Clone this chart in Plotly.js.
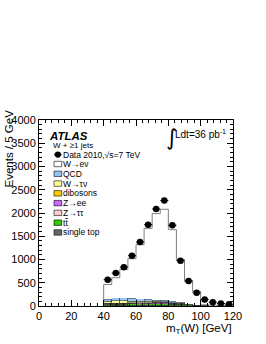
<!DOCTYPE html>
<html>
<head>
<meta charset="utf-8">
<script src="https://cdn.plot.ly/plotly-3.0.1.min.js"></script>
<style>html,body{margin:0;padding:0;background:#fff;}#chart{width:266px;height:344px;}</style>
</head>
<body>
<div id="chart"></div>
<script>
// ---- data ----
const binCenters = [42.5, 47.5, 52.5, 57.5, 62.5, 67.5, 72.5, 77.5, 82.5, 87.5, 92.5, 97.5, 102.5, 107.5, 112.5, 117.5];
const binEdges   = [40, 45, 50, 55, 60, 65, 70, 75, 80, 85, 90, 95, 100, 105, 110, 115, 120];
const dataCounts = [565, 707, 836, 1082, 1375, 1750, 2086, 2267, 1735, 974, 535, 284, 140, 82, 54, 39];
const singleTop  = [10, 12, 13, 14, 14, 14, 13, 12, 10, 8, 6, 4, 2, 1, 1, 1];
const ttbar      = [18, 22, 26, 30, 34, 36, 36, 35, 30, 24, 16, 10, 5, 3, 2, 1];
const Ztautau    = [6, 6, 5, 5, 4, 4, 3, 3, 2, 2, 1, 1, 0, 0, 0, 0];
const Zee        = [20, 18, 16, 14, 14, 16, 20, 22, 14, 8, 4, 2, 1, 1, 0, 0];
const dibosons   = [3, 4, 4, 4, 4, 4, 5, 5, 5, 4, 3, 2, 1, 1, 1, 0];
const Wtaunu     = [40, 48, 45, 40, 32, 26, 22, 18, 14, 10, 6, 4, 2, 1, 1, 1];
const QCD        = [43, 67, 68, 63, 50, 40, 30, 25, 25, 20, 10, 6, 3, 2, 1, 1];
const Wenu       = [323, 431, 610, 847, 1167, 1530, 1858, 1960, 1542, 920, 500, 283, 12, 8, 6, 4];
const xTickVals  = [0, 20, 40, 60, 80, 100, 120];
const yTickVals  = [0, 500, 1000, 1500, 2000, 2500, 3000, 3500, 4000];

const legendNames  = ["W\u2192e\u03bd", "QCD", "W\u2192\u03c4\u03bd", "dibosons", "Z\u2192ee", "Z\u2192\u03c4\u03c4",
                      "t<span style=\"text-decoration:overline\">t</span>", "single top"];
const legendColors = ["#ffffff", "#95c6f0", "#ffff99", "#ffcc00", "#cc66ff", "#ffcccc", "#33cc00", "#666666"];

// ---- stack (bottom first) ----
const stackSeries = [
  {y: singleTop, name: "single top", color: "#666666"},
  {y: ttbar, name: "ttbar", color: "#33cc00"},
  {y: Ztautau, name: "Ztautau", color: "#ffcccc"},
  {y: Zee, name: "Zee", color: "#cc66ff"},
  {y: dibosons, name: "dibosons", color: "#ffcc00"},
  {y: Wtaunu, name: "Wtaunu", color: "#ffff99"},
  {y: QCD, name: "QCD", color: "#95c6f0"},
  {y: Wenu, name: "Wenu", color: "#ffffff"}
];

const traces = stackSeries.map(s => ({
  type: "bar", x: binCenters, y: s.y, width: 5, name: s.name,
  marker: {color: s.color, line: {width: s.name === "Wenu" ? 0 : 0.5, color: "#333333"}},
  showlegend: false, hoverinfo: "skip"
}));

// total outline (step line)
const totals = binCenters.map((_, i) => stackSeries.reduce((a, s) => a + s.y[i], 0));
const stepX = [binEdges[0]].concat(binEdges);
const stepY = [0].concat(totals, [totals[totals.length - 1]]);
traces.push({
  type: "scatter", mode: "lines", x: stepX, y: stepY,
  line: {shape: "hv", color: "#7f7f7f", width: 1}, showlegend: false, hoverinfo: "skip"
});

// data points
traces.push({
  type: "scatter", mode: "markers", x: binCenters, y: dataCounts,
  marker: {color: "#000", size: 6.5},
  error_y: {type: "sqrt", color: "#000", thickness: 1, width: 0},
  error_x: {type: "constant", value: 2.5, color: "#000", thickness: 1, width: 0},
  showlegend: false, hoverinfo: "skip"
});

// ---- layout geometry helpers (pixel -> paper) ----
const W = 266, H = 344;
const mL = 39, mR = 33, mT = 120, mB = 38;
const pw = W - mL - mR, ph = H - mT - mB;
const px = x => (x - mL) / pw;
const py = y => (H - mB - y) / ph;

const font = "Liberation Sans, Arial, Helvetica, sans-serif";
const annotations = [];
const shapes = [];

// ATLAS label etc.
annotations.push({xref: "paper", yref: "paper", x: px(46.5), y: py(135.5), xanchor: "left", yanchor: "middle",
  text: "<b><i>ATLAS</i></b>", showarrow: false, font: {family: font, size: 11.5, color: "#000"}});
annotations.push({xref: "paper", yref: "paper", x: px(51.5), y: py(145.6), xanchor: "left", yanchor: "middle",
  text: "W + \u22651 jets", showarrow: false, borderpad: 0, font: {family: font, size: 8, color: "#000"}});

// data legend entry
const dataCy = 154.6;
shapes.push({type: "line", xref: "paper", yref: "paper", x0: px(54), x1: px(61.7), y0: py(dataCy), y1: py(dataCy), line: {color: "#000", width: 1}});
shapes.push({type: "circle", xref: "paper", yref: "paper", x0: px(54.7), x1: px(61), y0: py(dataCy + 3.1), y1: py(dataCy - 3.1), fillcolor: "#000", line: {color: "#000", width: 0}});
annotations.push({xref: "paper", yref: "paper", x: px(62), y: py(dataCy), xanchor: "left", yanchor: "middle",
  text: "Data 2010,\u221as=7 TeV", showarrow: false, borderpad: 0, font: {family: font, size: 8.5, color: "#000"}});

// fill legend entries
legendNames.forEach((n, i) => {
  const cy = 164 + i * 9.78;
  shapes.push({type: "rect", xref: "paper", yref: "paper", x0: px(54), x1: px(61.7), y0: py(cy + 2.7), y1: py(cy - 2.7),
    fillcolor: legendColors[i], line: {color: "#000", width: 0.6}});
  annotations.push({xref: "paper", yref: "paper", x: px(62), y: py(cy), xanchor: "left", yanchor: "middle",
    text: n, showarrow: false, borderpad: 0, font: {family: font, size: 8.5, color: "#000"}});
});

// luminosity label
annotations.push({xref: "paper", yref: "paper", x: px(163.5), y: py(137), xanchor: "left", yanchor: "middle",
  text: "\u222b", showarrow: false, font: {family: "DejaVu Sans, sans-serif", size: 22, color: "#000"}});
annotations.push({xref: "paper", yref: "paper", x: px(172.5), y: py(133.5), xanchor: "left", yanchor: "middle",
  text: "Ldt=36 pb<sup>-1</sup>", showarrow: false, font: {family: font, size: 10, color: "#000"}});

// axis titles (right/top aligned as in ROOT)
annotations.push({xref: "paper", yref: "paper", x: px(8), y: py(107.5), xanchor: "center", yanchor: "top", textangle: -90,
  text: "Events / 5 GeV", showarrow: false, font: {family: font, size: 11.5, color: "#000"}});
annotations.push({xref: "paper", yref: "paper", x: px(234), y: py(328.5), xanchor: "right", yanchor: "middle",
  text: "m<sub>T</sub>(W) [GeV]", showarrow: false, font: {family: font, size: 11.5, color: "#000"}});

const axisCommon = {
  showgrid: false, zeroline: false, showline: true, linecolor: "#000", linewidth: 1,
  mirror: "ticks", ticks: "inside", ticklen: 6, tickcolor: "#000", tickwidth: 1,
  tickfont: {family: font, size: 11, color: "#000"}
};

const layout = {
  width: W, height: H,
  margin: {l: mL, r: mR, t: mT, b: mB, pad: 0},
  paper_bgcolor: "#fff", plot_bgcolor: "#fff",
  barmode: "stack", bargap: 0,
  showlegend: false,
  xaxis: Object.assign({}, axisCommon, {range: [0, 120], tickvals: xTickVals, ticktext: xTickVals.map(String),
    minor: {dtick: 4, tick0: 0, ticks: "inside", ticklen: 3, tickcolor: "#000", showgrid: false}}),
  yaxis: Object.assign({}, axisCommon, {range: [0, 4000], tickvals: yTickVals, ticktext: yTickVals.map(String),
    minor: {dtick: 100, tick0: 0, ticks: "inside", ticklen: 3, tickcolor: "#000", showgrid: false}}),
  annotations: annotations,
  shapes: shapes
};

Plotly.newPlot("chart", traces, layout, {staticPlot: true, displayModeBar: false});
</script>
</body>
</html>
